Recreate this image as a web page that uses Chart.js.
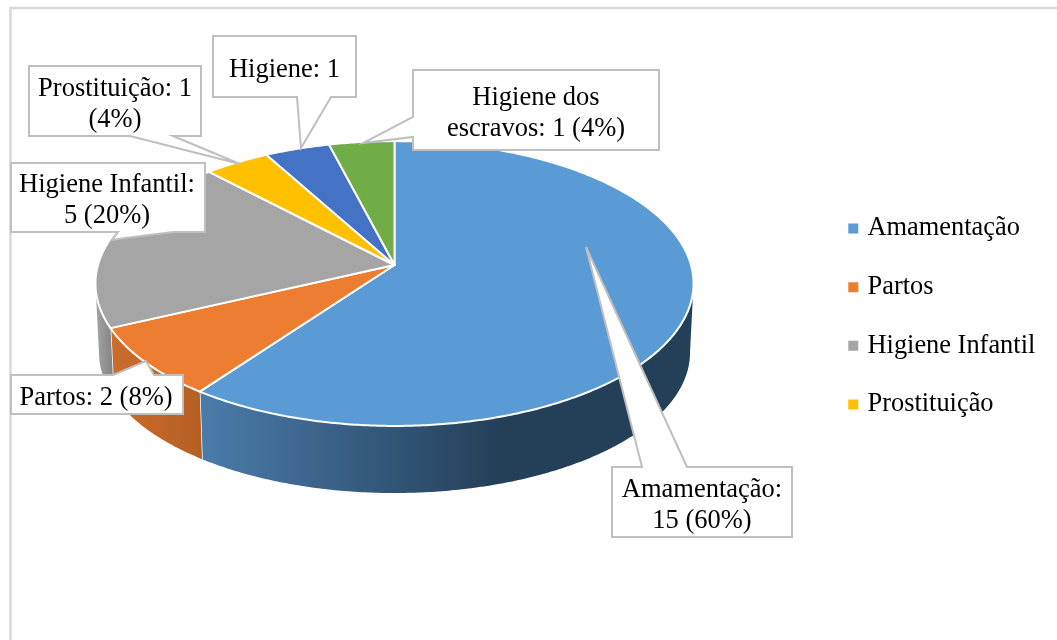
<!DOCTYPE html>
<html>
<head>
<meta charset="utf-8">
<style>html,body{margin:0;padding:0;background:#fff}canvas{display:block}</style>
<script src="https://cdn.jsdelivr.net/npm/chart.js@4"></script>
</head>
<body>
<canvas id="c" width="1057" height="640"></canvas>
<script>
const categories = ["Amamentação", "Partos", "Higiene Infantil", "Prostituição", "Higiene", "Higiene dos escravos"];
const values = [15, 2, 5, 1, 1, 1];
const topColors = ["#5b9bd5", "#ed7d31", "#a5a5a5", "#ffc000", "#4472c4", "#70ad47"];
const wallColors = ["#243f58", "#bd6327", "#8c8c8c", "#b38600", "#30508a", "#4f7a32"];
const legendCount = 4;

const calloutLines = [
  ["Amamentação:", "15 (60%)"],
  ["Partos: 2 (8%)"],
  ["Higiene Infantil:", "5 (20%)"],
  ["Prostituição: 1", "(4%)"],
  ["Higiene: 1"],
  ["Higiene dos", "escravos: 1 (4%)"]
];
// box: left, top, right, bottom; tail: polygon vertices inserted into the outline
const calloutBoxes = [
  {b:[612,467,792,537], base:[[642,467],[586,247],[687,467]], side:"top"},
  {b:[11,375,183,414], base:[[113,375],[146,361],[154,375]], side:"top"},
  {b:[11,163,205,232], base:[[173,232],[125,238],[112,240],[118,232]], side:"bottom"},
  {b:[29,66,201,136], base:[[173,136],[240,164],[130,136]], side:"bottom"},
  {b:[213,36,356,97], base:[[331,97],[301,148],[297,97]], side:"bottom"},
  {b:[413,70,659,150], base:[[413,137],[363,143],[413,117]], side:"left"}
];

// perspective of the disc
const view = {cx:394.5, cy:265, a:296.5, b:140, k:0.13};
const floor = {cx:394.5, cy:334.4, a:293, b:138, k:0.13};
const tangent = Math.asin(view.k);
const frontStart = tangent, frontEnd = Math.PI - tangent;
function project(v, t){
  const X = Math.cos(t), Y = Math.sin(t), w = 1 - v.k * Y;
  return [v.cx + v.a * X / w, v.cy + v.b * Y / w];
}
function samples(s, e){
  const n = Math.max(2, Math.ceil((e - s) / 0.01)), out = [];
  for (let i = 0; i <= n; i++) out.push(s + (e - s) * i / n);
  return out;
}

const pie3d = {
  id: "pie3d",
  beforeDatasetDraw(chart){
    const ctx = chart.ctx, arcs = chart.getDatasetMeta(0).data;
    ctx.save();
    ctx.lineJoin = "round";
    arcs.forEach((arc, i) => {
      const s = Math.max(arc.startAngle, frontStart), e = Math.min(arc.endAngle, frontEnd);
      if (e <= s) return;
      const ts = samples(s, e);
      ctx.beginPath();
      ts.forEach((t, j) => { const p = project(view, t); j ? ctx.lineTo(p[0], p[1]) : ctx.moveTo(p[0], p[1]); });
      ts.slice().reverse().forEach(t => { const p = project(floor, t); ctx.lineTo(p[0], p[1]); });
      ctx.closePath();
      let fill = wallColors[i];
      if (i === 0) {
        const g = ctx.createLinearGradient(200, 0, 500, 0);
        g.addColorStop(0, "#4a7cab");
        g.addColorStop(1, wallColors[0]);
        fill = g;
      } else if (i === 1) {
        const g = ctx.createLinearGradient(110, 0, 203, 0);
        g.addColorStop(0, "#cc6c2b");
        g.addColorStop(1, "#b55f24");
        fill = g;
      } else if (i === 2) {
        const g = ctx.createLinearGradient(98, 0, 112, 0);
        g.addColorStop(0, "#a0a0a0");
        g.addColorStop(1, "#858585");
        fill = g;
      }
      ctx.fillStyle = fill;
      ctx.fill();
      if (arc.endAngle < frontEnd) {
        const seamA = project(view, arc.endAngle), seamB = project(floor, arc.endAngle);
        ctx.strokeStyle = "#fff";
        ctx.lineWidth = 1.5;
        ctx.beginPath(); ctx.moveTo(seamA[0], seamA[1]); ctx.lineTo(seamB[0], seamB[1]); ctx.stroke();
      }
    });
    arcs.forEach((arc, i) => {
      ctx.beginPath();
      ctx.moveTo(view.cx, view.cy);
      samples(arc.startAngle, arc.endAngle).forEach(t => { const p = project(view, t); ctx.lineTo(p[0], p[1]); });
      ctx.closePath();
      ctx.fillStyle = arc.options.backgroundColor;
      ctx.fill();
      ctx.strokeStyle = "#fff";
      ctx.lineWidth = 2;
      ctx.stroke();
    });
    ctx.restore();
    return false;
  },
  afterDatasetsDraw(chart){
    const ctx = chart.ctx;
    ctx.save();
    calloutBoxes.forEach((c, i) => {
      const [l, t, r, b] = c.b;
      ctx.beginPath();
      ctx.moveTo(l, t);
      if (c.side === "top") c.base.forEach(p => ctx.lineTo(p[0], p[1]));
      ctx.lineTo(r, t);
      ctx.lineTo(r, b);
      if (c.side === "bottom") c.base.forEach(p => ctx.lineTo(p[0], p[1]));
      ctx.lineTo(l, b);
      if (c.side === "left") c.base.forEach(p => ctx.lineTo(p[0], p[1]));
      ctx.closePath();
      ctx.fillStyle = "#fff";
      ctx.fill();
      ctx.strokeStyle = "#bfbfbf";
      ctx.lineWidth = 2;
      ctx.stroke();
      ctx.fillStyle = "#000";
      ctx.font = "26.5px 'Liberation Serif'";
      ctx.textAlign = "center";
      ctx.textBaseline = "alphabetic";
      const lines = calloutLines[i], lh = 31;
      const mid = (t + b) / 2 + 10;
      lines.forEach((s, j) => ctx.fillText(s, (l + r) / 2 - (l < 12 ? 1 : 0), mid + (j - (lines.length - 1) / 2) * lh));
    });
    ctx.restore();
  }
};

const framePlugin = {
  id: "frame",
  beforeDraw(chart){
    const ctx = chart.ctx;
    ctx.save();
    ctx.fillStyle = "#fff";
    ctx.fillRect(0, 0, chart.width, chart.height);
    ctx.strokeStyle = "#d9d9d9";
    ctx.lineWidth = 2.5;
    ctx.strokeRect(10.5, 8, 2000, 2000);
    ctx.restore();
  }
};

new Chart(document.getElementById("c"), {
  type: "pie",
  data: {
    labels: categories,
    datasets: [{ data: values, backgroundColor: topColors, borderWidth: 0 }]
  },
  plugins: [framePlugin, pie3d],
  options: {
    responsive: false,
    animation: false,
    layout: { padding: { top: 0, left: 0, bottom: 7, right: 11.7 } },
    plugins: {
      tooltip: { enabled: false },
      title: { display: false },
      legend: {
        position: "right",
        align: "center",
        labels: {
          font: { family: "'Liberation Serif'", size: 26.4 },
          color: "#000",
          padding: 32.3,
          boxWidth: 2,
          boxHeight: 10,
          usePointStyle: true,
          pointStyle: "rect",
          filter: item => item.index < legendCount
        }
      }
    }
  }
});
</script>
</body>
</html>
